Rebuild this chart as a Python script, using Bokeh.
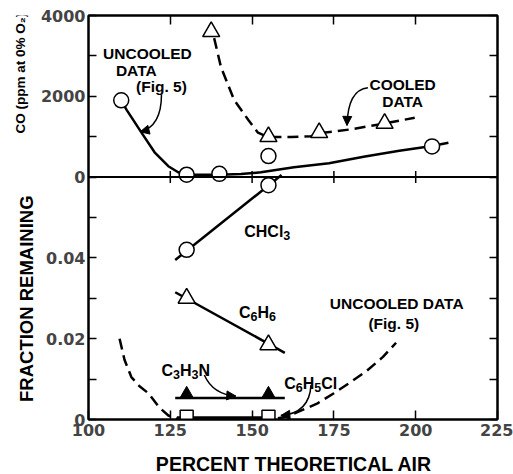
import math
from bokeh.plotting import figure
from bokeh.layouts import row, column
from bokeh.models import Range1d, LinearAxis, FixedTicker, Label, Span, Arrow, NormalHead
from bokeh.embed import file_html
from bokeh.resources import INLINE

# ---------------- data ----------------
x_ticks = [100, 125, 150, 175, 200, 225]
inner_x_ticks = [125, 150, 175, 200]

frac_major = [0, 0.02, 0.04]
frac_major_labels = ["0", "0.02", "0.04"]
frac_minor = [0.01, 0.03, 0.05]
co_major = [0, 2000, 4000]
co_major_labels = ["0", "2000", "4000"]
co_minor = [1000, 3000]

# top panel: CO (ppm at 0% O2)
uncooled_co_pts_x = [110, 130, 140, 205]
uncooled_co_pts_y = [1900, 60, 80, 760]
uncooled_extra_x = [155]
uncooled_extra_y = [520]
uncooled_co_curve_x = [110, 111.6, 116.2, 120.2, 124.4, 127.4, 130, 140, 146.6, 152.7, 162.8, 173.5, 184.5, 195, 205, 210]
uncooled_co_curve_y = [1900, 1670, 1100, 615, 270, 120, 60, 60, 75, 120, 245, 345, 510, 650, 770, 850]

cooled_co_pts_x = [137.5, 155, 170.5, 190.5]
cooled_co_pts_y = [3600, 1000, 1100, 1330]
cooled_co_curve_x = [138.4, 140.5, 144.5, 148.8, 151.8, 155, 162, 168, 171, 180, 190, 199.7]
cooled_co_curve_y = [3440, 2720, 1910, 1420, 1100, 990, 990, 1010, 1090, 1180, 1320, 1470]

# bottom panel: fraction remaining
chcl3_x = [130, 155]
chcl3_y = [0.042, 0.058]
chcl3_fit_x = [126.5, 159]
chcl3_fit_y = [0.0395, 0.0605]

c6h6_x = [130, 155]
c6h6_y = [0.030, 0.0185]
c6h6_fit_x = [126.5, 160]
c6h6_fit_y = [0.0315, 0.0165]

c3h3n_x = [130, 155]
c3h3n_y = [0.0062, 0.0062]
c3h3n_fit_x = [126.5, 160]
c3h3n_fit_y = [0.0053, 0.0053]

c6h5cl_x = [130, 155]
c6h5cl_y = [0.0007, 0.0007]
c6h5cl_fit_x = [127, 157]
c6h5cl_fit_y = [0.0003, 0.0003]

uncooled_frac_x = [109.5, 111, 113.1, 115.5, 118.3, 121.6, 124.4, 127, 157, 160, 163, 170, 175, 180, 185, 190, 194]
uncooled_frac_y = [0.020, 0.0148, 0.0105, 0.0083, 0.0065, 0.003, 0.001, 0.0002, 0.0002, 0.0006, 0.0015, 0.004, 0.0065, 0.0092, 0.012, 0.0155, 0.019]

# ---------------- geometry ----------------
frac_unit = 0.01            # fraction per main unit
co_unit = 1000              # ppm per main unit
split = 6                   # main units of the lower panel
main_end = 10
W, H = 513, 474
TOP = 15
P_BOTTOM = 25
STRIP_H = 30
LEFT_STRIP = 37
P_H = H - STRIP_H

def to_main_frac(v):
    return int(round(v / frac_unit))

def to_main_co(v):
    return int(round(split + v / co_unit))

def make_extra():
    return {"frac": Range1d(0, main_end * frac_unit),
            "co": Range1d(-split * co_unit, (main_end - split) * co_unit)}

p = figure(width=W - LEFT_STRIP, height=P_H, x_range=Range1d(100, 225), y_range=Range1d(0, main_end),
           output_backend="svg", toolbar_location=None,
           min_border_left=87 - LEFT_STRIP, min_border_right=16, min_border_top=TOP,
           min_border_bottom=P_BOTTOM)
p.extra_y_ranges = make_extra()
p.grid.visible = False
p.outline_line_color = "black"
p.outline_line_width = 2
p.background_fill_color = "white"
p.border_fill_color = "white"

TICK_FONT = "DejaVu Sans"
ANN_FONT = "Liberation Sans"

major_main = [to_main_frac(v) for v in frac_major] + [to_main_co(v) for v in co_major]
minor_main = [to_main_frac(v) for v in frac_minor] + [to_main_co(v) for v in co_minor]
overrides = {}
for v, s in zip(frac_major, frac_major_labels):
    overrides[to_main_frac(v)] = s
for v, s in zip(co_major, co_major_labels):
    overrides[to_main_co(v)] = s

# left axis
ya = p.yaxis[0]
ya.ticker = FixedTicker(ticks=major_main, minor_ticks=minor_main)
ya.major_label_overrides = overrides
ya.major_tick_in = 8
ya.major_tick_out = 0
ya.minor_tick_in = 8
ya.minor_tick_out = 0
ya.major_tick_line_width = 1.5
ya.minor_tick_line_width = 1.5
ya.minor_tick_line_color = "black"
ya.axis_line_width = 2
ya.major_label_text_font = TICK_FONT
ya.major_label_text_font_style = "bold"
ya.major_label_text_font_size = "16px"
ya.major_label_standoff = 3

# bottom axis (tick labels only; its title is in the strip below)
xa = p.xaxis[0]
xa.ticker = FixedTicker(ticks=x_ticks)
xa.major_tick_in = 9
xa.major_tick_out = 0
xa.minor_tick_line_color = None
xa.major_tick_line_width = 1.5
xa.axis_line_width = 2
xa.major_label_text_font = TICK_FONT
xa.major_label_text_font_style = "bold"
xa.major_label_text_font_size = "16px"
xa.major_label_standoff = 4

# right and top axes (ticks only, no labels)
ra = LinearAxis(ticker=FixedTicker(ticks=[], minor_ticks=major_main + minor_main),
                minor_tick_in=8, minor_tick_out=0, minor_tick_line_width=1.5,
                major_tick_in=0, major_tick_out=0, axis_line_width=2)
p.add_layout(ra, "right")
ta = LinearAxis(ticker=FixedTicker(ticks=[], minor_ticks=inner_x_ticks),
                minor_tick_in=9, minor_tick_out=0, minor_tick_line_width=1.5,
                major_tick_in=0, major_tick_out=0, axis_line_width=2)
p.add_layout(ta, "above")

# panel boundary
p.add_layout(Span(location=split, dimension="width", line_color="black", line_width=2))
p.scatter(inner_x_ticks, [split] * len(inner_x_ticks), marker="dash", angle=math.pi / 2,
          size=12, line_color="black", line_width=1.5)

# ---------------- top panel ----------------
p.line(uncooled_co_curve_x, uncooled_co_curve_y, y_range_name="co", line_color="black", line_width=2.5)
p.line(cooled_co_curve_x, cooled_co_curve_y, y_range_name="co", line_color="black", line_width=2.5,
       line_dash="11 6")
p.scatter(uncooled_co_pts_x, uncooled_co_pts_y, y_range_name="co", marker="circle", size=15,
          fill_color="white", line_color="black", line_width=1.5)
p.scatter(uncooled_extra_x, uncooled_extra_y, y_range_name="co", marker="circle", size=15,
          fill_color="white", line_color="black", line_width=1.5)
p.scatter(cooled_co_pts_x, cooled_co_pts_y, y_range_name="co", marker="triangle", size=17,
          fill_color="white", line_color="black", line_width=1.5)

# ---------------- bottom panel ----------------
p.line(uncooled_frac_x, uncooled_frac_y, y_range_name="frac", line_color="black", line_width=2.5,
       line_dash="11 6")
p.line(chcl3_fit_x, chcl3_fit_y, y_range_name="frac", line_color="black", line_width=2.5)
p.line(c6h6_fit_x, c6h6_fit_y, y_range_name="frac", line_color="black", line_width=2.5)
p.line(c3h3n_fit_x, c3h3n_fit_y, y_range_name="frac", line_color="black", line_width=2.5)
p.line(c6h5cl_fit_x, c6h5cl_fit_y, y_range_name="frac", line_color="black", line_width=4)
p.scatter(chcl3_x, chcl3_y, y_range_name="frac", marker="circle", size=15,
          fill_color="white", line_color="black", line_width=1.5)
p.scatter(c6h6_x, c6h6_y, y_range_name="frac", marker="triangle", size=17,
          fill_color="white", line_color="black", line_width=1.5)
p.scatter(c3h3n_x, c3h3n_y, y_range_name="frac", marker="triangle", size=14,
          fill_color="black", line_color="black", line_width=1)
p.scatter(c6h5cl_x, c6h5cl_y, y_range_name="frac", marker="square", size=13,
          fill_color="white", line_color="black", line_width=1.5)

# ---------------- annotations ----------------
def lab(fig, text, x, y, rng=None, align="center", size=15.5, angle=0.0, xo=0.0, yo=0.0,
        baseline="middle"):
    kw = dict(y_range_name=rng) if rng else {}
    fig.add_layout(Label(x=x, y=y, text=text, text_align=align,
                         text_baseline=baseline, text_font=ANN_FONT, text_font_style="bold",
                         text_font_size=f"{size}px", text_color="black", angle=angle,
                         x_offset=xo, y_offset=yo, **kw))

CHAR_W = {"C": 0.722, "H": 0.722, "N": 0.722, "l": 0.278}

def formula(text_runs, x, y, rng, size=16.0, sub_size=12.5):
    """text_runs: list of (text, is_subscript); x is the left edge, y the vertical middle."""
    xo = 0.0
    base = -0.36 * size
    for t, is_sub in text_runs:
        fs = sub_size if is_sub else size
        lab(p, t, x, y, rng, align="left", size=fs, xo=xo,
            yo=base - (4.0 if is_sub else 0.0), baseline="alphabetic")
        xo += sum(CHAR_W.get(c, 0.556) for c in t) * fs

lab(p, "UNCOOLED", 118, 3068, "co")
lab(p, "DATA", 114.6, 2650, "co")
lab(p, "(Fig. 5)", 122.3, 2233, "co")
lab(p, "COOLED", 196, 2282, "co")
lab(p, "DATA", 196, 1865, "co")
formula([("CHCl", False), ("3", True)], 147.6, 0.048, "frac")
formula([("C", False), ("6", True), ("H", False), ("6", True)], 146, 0.028, "frac")
lab(p, "UNCOOLED DATA", 194.2, 0.02875, "frac")
lab(p, "(Fig. 5)", 193.3, 0.02375, "frac")
formula([("C", False), ("3", True), ("H", False), ("3", True), ("N", False)], 122.3, 0.0135, "frac")
formula([("C", False), ("6", True), ("H", False), ("5", True), ("Cl", False)], 159.8, 0.01025, "frac")

def curved_arrow(x0, y0, cx, cy, x1, y1, rng):
    p.quadratic(x0=[x0], y0=[y0], x1=[x1], y1=[y1], cx=[cx], cy=[cy], y_range_name=rng,
                line_color="black", line_width=1.5)
    p.add_layout(Arrow(x_start=cx, y_start=cy, x_end=x1, y_end=y1, y_range_name=rng,
                       line_alpha=0, end=NormalHead(size=9, fill_color="black", line_color="black")))

curved_arrow(122.3, 2037, 122.3, 1250, 115.8, 1120, "co")
curved_arrow(185.4, 2209, 179.3, 2160, 179.0, 1280, "co")
curved_arrow(135.4, 0.011, 138.0, 0.0062, 145.0, 0.0058, "frac")
curved_arrow(168.0, 0.0085, 167.5, 0.0015, 158.8, 0.0010, "frac")

# ---------------- left strip: vertical axis titles ----------------
lf = figure(width=LEFT_STRIP, height=P_H, x_range=Range1d(0, LEFT_STRIP), y_range=Range1d(0, main_end),
            output_backend="svg", toolbar_location=None, x_axis_location=None, y_axis_location=None,
            min_border_left=0, min_border_right=0, min_border_top=TOP, min_border_bottom=P_BOTTOM)
lf.extra_y_ranges = make_extra()
lf.grid.visible = False
lf.outline_line_color = None
lf.background_fill_color = "white"
lf.border_fill_color = "white"
lab(lf, "CO (ppm at 0% O₂)", 20, 2575, "co", size=13.5, angle=math.pi / 2)
lab(lf, "FRACTION REMAINING", 26, 0.0299, "frac", size=18.5, angle=math.pi / 2)

# ---------------- bottom strip: x axis title ----------------
bf = figure(width=W, height=STRIP_H, x_range=Range1d(0, W), y_range=Range1d(0, STRIP_H),
            output_backend="svg", toolbar_location=None, x_axis_location=None, y_axis_location=None,
            min_border_left=0, min_border_right=0, min_border_top=0, min_border_bottom=0)
bf.grid.visible = False
bf.outline_line_color = None
bf.background_fill_color = "white"
bf.border_fill_color = "white"
lab(bf, "PERCENT THEORETICAL AIR", 293.5, 11, size=19.5)

layout = column(row(lf, p, spacing=0), bf, spacing=0)
open("out.html", "w").write(file_html(layout, INLINE))
